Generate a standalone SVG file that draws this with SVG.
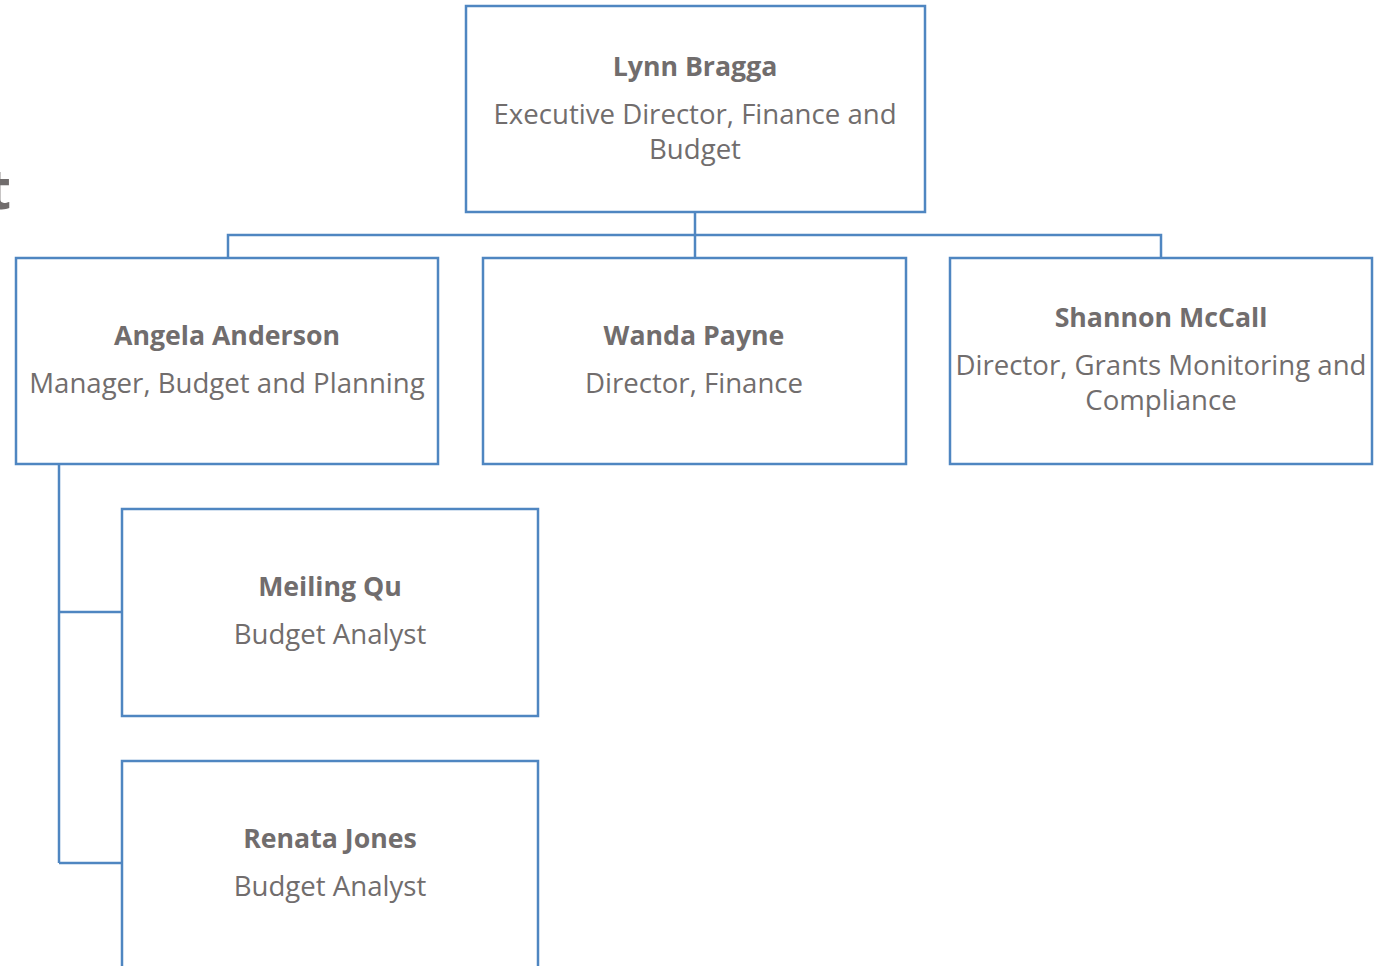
<svg xmlns="http://www.w3.org/2000/svg" width="1374" height="966" viewBox="0 0 1374 966">
<style>
.box{fill:#ffffff;stroke:#4f86c1;stroke-width:2.5}
.conn{fill:none;stroke:#4f86c1;stroke-width:2.5}
text{font-family:"Open Sans","Noto Sans","Liberation Sans",sans-serif;fill:#716d6d;text-anchor:middle}
.name{font-weight:bold;font-size:26.7px}
.role{font-size:27.6px}
.title{font-weight:bold;font-size:56px;text-anchor:end}
</style>
<rect width="1374" height="966" fill="#ffffff"/>
<text class="title" x="11" y="209">t</text>
<g id="connectors">
<path class="conn" d="M695 212 V258 M228 258 V235 H1161 V258"/>
<path class="conn" d="M59 464 V863 M59 612 H122 M59 863 H122"/>
</g>
<g id="lynn">
<rect class="box" x="466" y="6" width="459" height="206"/>
<text class="name" x="695" y="76">Lynn Bragga</text>
<text class="role" x="695" y="124">Executive Director, Finance and</text>
<text class="role" x="695" y="159">Budget</text>
</g>
<g id="angela">
<rect class="box" x="16" y="258" width="422" height="206"/>
<text class="name" x="227" y="345">Angela Anderson</text>
<text class="role" x="227" y="393">Manager, Budget and Planning</text>
</g>
<g id="wanda">
<rect class="box" x="483" y="258" width="423" height="206"/>
<text class="name" x="694" y="345">Wanda Payne</text>
<text class="role" x="694" y="393">Director, Finance</text>
</g>
<g id="shannon">
<rect class="box" x="950" y="258" width="422" height="206"/>
<text class="name" x="1161" y="327">Shannon McCall</text>
<text class="role" x="1161" y="375">Director, Grants Monitoring and</text>
<text class="role" x="1161" y="410">Compliance</text>
</g>
<g id="meiling">
<rect class="box" x="122" y="509" width="416" height="207"/>
<text class="name" x="330" y="596">Meiling Qu</text>
<text class="role" x="330" y="644">Budget Analyst</text>
</g>
<g id="renata">
<rect class="box" x="122" y="761" width="416" height="220"/>
<text class="name" x="330" y="848">Renata Jones</text>
<text class="role" x="330" y="896">Budget Analyst</text>
</g>
</svg>
